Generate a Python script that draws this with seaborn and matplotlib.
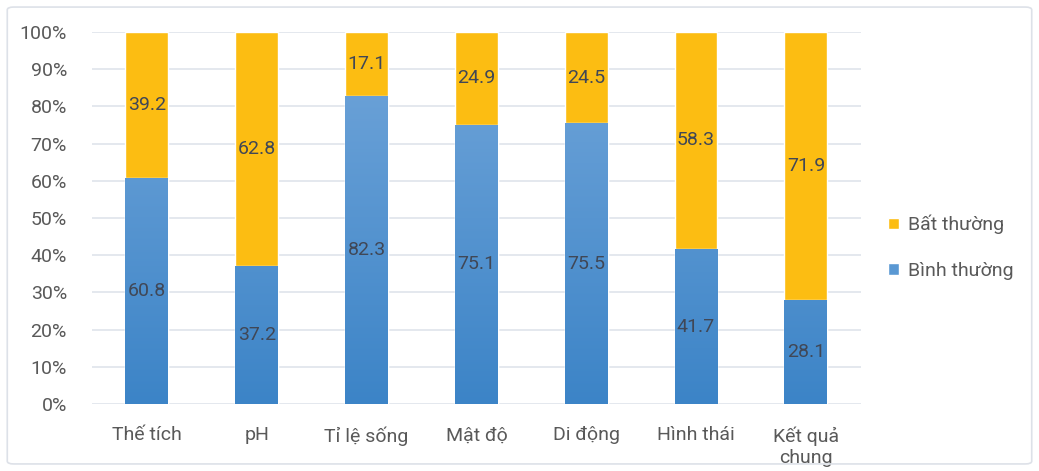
import numpy as np
import pandas as pd
import matplotlib
matplotlib.use("Agg")
import matplotlib.pyplot as plt
import seaborn as sns
from matplotlib.patches import FancyBboxPatch, Patch
from matplotlib.colors import LinearSegmentedColormap

categories = ["Thế tích", "pH", "Tỉ lệ sống", "Mật độ", "Di động", "Hình thái", "Kết quả\nchung"]
binh_thuong = [60.8, 37.2, 82.3, 75.1, 75.5, 41.7, 28.1]
bat_thuong = [39.2, 62.8, 17.1, 24.9, 24.5, 58.3, 71.9]
y_ticks = [0, 10, 20, 30, 40, 50, 60, 70, 80, 90, 100]

sns.set_theme(style="white")
plt.rcParams["font.family"] = ["Roboto", "DejaVu Sans"]

ORANGE = "#FCBD12"
BLUE_TOP = "#72A6DA"
BLUE_BOT = "#3C84C7"
TEXT = "#595959"
GRID = "#DCE1EA"
FS = 14

# share of each group within its category (100% stacked)
totals = np.array(binh_thuong) + np.array(bat_thuong)
blue_pct = np.array(binh_thuong) / totals * 100
df = pd.DataFrame({"cat": categories, "total": 100.0, "blue": blue_pct})

fig = plt.figure(figsize=(10.39, 4.71), dpi=100)
ax = fig.add_axes([0.0885, 0.142, 0.74, 0.79])

sns.barplot(data=df, x="cat", y="total", color=ORANGE, width=0.39, ax=ax,
            saturation=1, zorder=2)
n_orange = len(ax.patches)
sns.barplot(data=df, x="cat", y="blue", color=BLUE_BOT, width=0.39, ax=ax,
            saturation=1, zorder=3)

# vertical gradient on the blue segments
cmap = LinearSegmentedColormap.from_list("bl", [BLUE_BOT, BLUE_TOP])
grad = np.linspace(0, 1, 256).reshape(-1, 1)
for p in ax.patches[n_orange:]:
    x0 = p.get_x()
    w = p.get_width()
    im = ax.imshow(grad, cmap=cmap, origin="lower", aspect="auto",
                   extent=[x0, x0 + w, 0, 100], zorder=4,
                   vmin=0, vmax=1)
    im.set_clip_path(p)

ax.set_xlim(-0.5, len(categories) - 0.5)
ax.set_ylim(0, 100)
ax.set_yticks(y_ticks)
ax.set_yticklabels([f"{v}%" for v in y_ticks])
ax.yaxis.grid(True, color=GRID, linewidth=1.1, zorder=0)
ax.set_axisbelow(True)
for s in ax.spines.values():
    s.set_visible(False)
ax.tick_params(axis="both", length=0, colors=TEXT, labelsize=FS)
ax.tick_params(axis="y", pad=18)
ax.tick_params(axis="x", pad=16)
ax.set_xlabel("")
ax.set_ylabel("")

for i in range(len(categories)):
    b = blue_pct[i]
    ax.text(i, b / 2, f"{binh_thuong[i]:.1f}", ha="center", va="center",
            fontsize=FS, color="#404756", zorder=6)
    ax.text(i, b + (100 - b) / 2, f"{bat_thuong[i]:.1f}", ha="center", va="center",
            fontsize=FS, color="#404756", zorder=6)

handles = [Patch(facecolor=ORANGE, label="Bất thường"),
           Patch(facecolor="#5A98D3", label="Bình thường")]
fig.legend(handles=handles, loc="center left", bbox_to_anchor=(0.838, 0.475),
           frameon=False, fontsize=FS, handlelength=0.55, handleheight=0.55,
           handletextpad=0.45, labelspacing=1.4, labelcolor=TEXT)

# light outer frame
frame = FancyBboxPatch((0.007, 0.015), 0.986, 0.97,
                       boxstyle="round,pad=0,rounding_size=0.006",
                       transform=fig.transFigure, fill=False,
                       edgecolor="#DDE1E8", linewidth=1.2)
fig.patches.append(frame)

fig.savefig("out.png", dpi=100)
